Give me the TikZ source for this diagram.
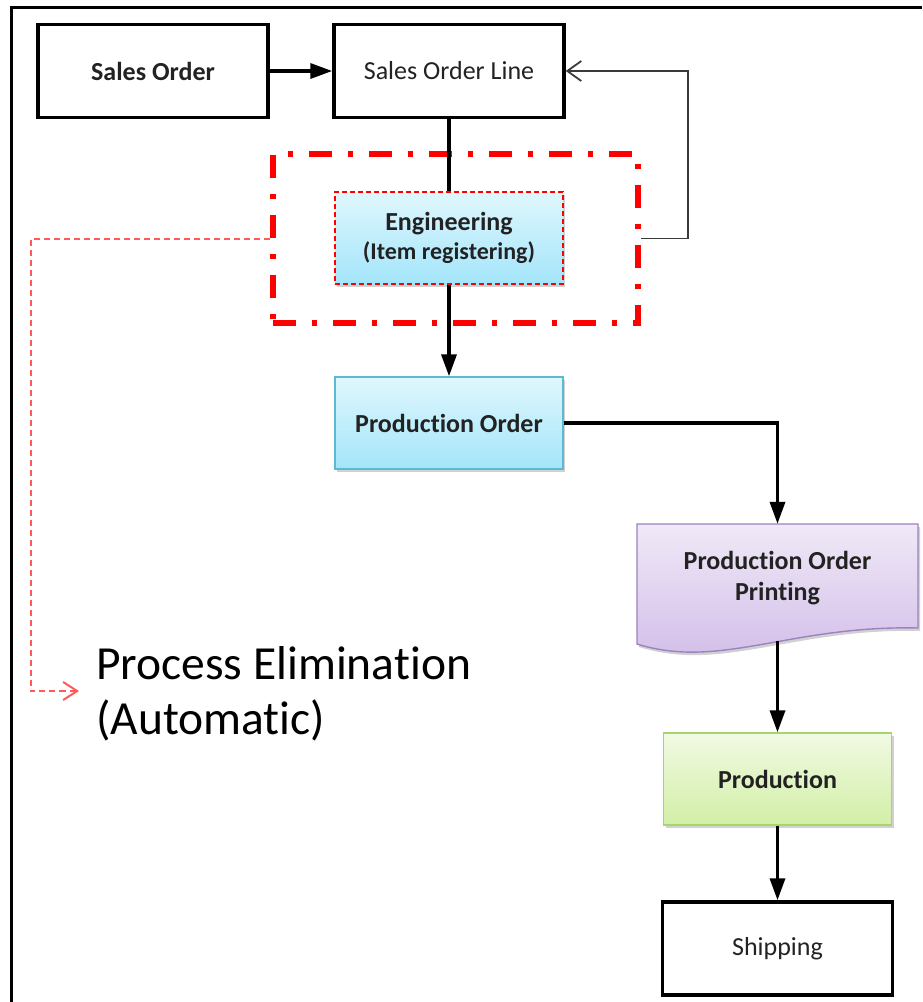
\documentclass[tikz,border=0pt]{standalone}
\usepackage{fontspec}
\setmainfont{Carlito}[Ligatures=NoCommon]
\usetikzlibrary{arrows.meta,shadows}

\definecolor{inkgray}{HTML}{222222}
\definecolor{cyantop}{HTML}{E0F7FD}
\definecolor{cyanbot}{HTML}{A3E5FA}
\definecolor{cyanline}{HTML}{5DB9D2}
\definecolor{lilactop}{HTML}{F0E9F7}
\definecolor{lilacbot}{HTML}{D0BBE8}
\definecolor{lilacline}{HTML}{9B82C0}
\definecolor{limetop}{HTML}{F1FAE3}
\definecolor{limebot}{HTML}{D2EFA6}
\definecolor{limeline}{HTML}{A8D46E}
\definecolor{elimred}{HTML}{FF5A5A}
\definecolor{loopgray}{HTML}{3A3A3A}

\tikzset{
  boxfont/.style={font=\fontsize{26}{31}\selectfont, text=inkgray, align=center},
  plainbox/.style={boxfont, draw=black, line width=3.5pt, fill=white,
    minimum width=230pt, minimum height=93pt, inner sep=0pt},
  softshadow/.style={drop shadow={shadow xshift=2pt, shadow yshift=-3pt,
    fill=black, opacity=0.18}},
  colorbox/.style={boxfont, line width=1.4pt, softshadow,
    minimum width=228pt, minimum height=92pt, inner sep=0pt},
  bluebox/.style={colorbox, draw=cyanline, top color=cyantop, bottom color=cyanbot},
  greenbox/.style={colorbox, draw=limeline, top color=limetop, bottom color=limebot},
  docshape/.style={draw=lilacline, line width=1.4pt, softshadow,
    top color=lilactop, bottom color=lilacbot},
  zone/.style={draw=red, line width=6pt,
    dash pattern=on 23pt off 16pt on 5pt off 16pt,
    minimum width=365pt, minimum height=169pt, inner sep=0pt},
  flow/.style={draw=black, line width=3.5pt,
    -{Triangle[length=22pt, width=15pt]}},
  link/.style={draw=black, line width=3.5pt},
  loopback/.style={draw=loopgray, line width=1.8pt,
    -{Straight Barb[length=14pt, width=20pt, line width=1.8pt]}},
  elim/.style={draw=elimred, line width=2pt, dash pattern=on 6pt off 4pt,
    -{Straight Barb[length=14pt, width=18pt, line width=2pt]}},
}

\begin{document}
\begin{tikzpicture}[x=1pt, y=-1pt]
\useasboundingbox (0,0) rectangle (922,1002);

% page frame (top and left edges)
\draw[line width=3pt] (922,7) -- (11,7) -- (11,1002);

% the step that is taken over automatically
\node[zone] (zone) at (455.5,238.5) {};

% process steps
\node[plainbox] (so) at (153,71) {\textbf{Sales Order}};
\node[plainbox] (sol) at (449,71) {Sales Order Line};
\node[bluebox, draw=red, dash pattern=on 5pt off 3pt] (eng) at (449,238)
  {\textbf{Engineering}\\[-2pt]{\fontsize{24}{28}\selectfont\textbf{(Item registering)}}};
\node[bluebox] (po) at (449,423) {\textbf{Production Order}};

% printed document shape with wavy lower edge
\path[docshape] (637,524) -- (918,524) -- (918,628)
  .. controls (790,625) and (720,670) .. (637,644) -- cycle;
\node[boxfont, minimum width=281pt, minimum height=108pt, inner sep=0pt]
  (print) at (777.5,578) {\textbf{Production Order}\\\textbf{Printing}};
\coordinate (printout) at (777.5,641);

\node[greenbox] (prod) at (777.5,779) {\textbf{Production}};
\node[plainbox] (ship) at (777.5,948.5) {Shipping};

% connectors
\draw[flow] (so) -- (sol);
\draw[link] (sol) -- (eng);
\draw[flow] (eng) -- (po);
\draw[flow] (po.east) -| (print.north);
\draw[flow] (printout) -- (prod);
\draw[flow] (prod) -- (ship);
\draw[loopback] (zone.east) -- ++(47,0) |- (sol.east);

% elimination note
\coordinate (ebend) at (31,691);
\coordinate (etip) at (79,691);
\draw[elim] (zone.west) -| (ebend) -- (etip);
\node[anchor=west, align=left, inner sep=0pt, text=black,
  font=\fontsize{47.5}{55}\selectfont] (note) at (96,694)
  {Process Elimination\\(Automatic)};
\end{tikzpicture}
\end{document}
